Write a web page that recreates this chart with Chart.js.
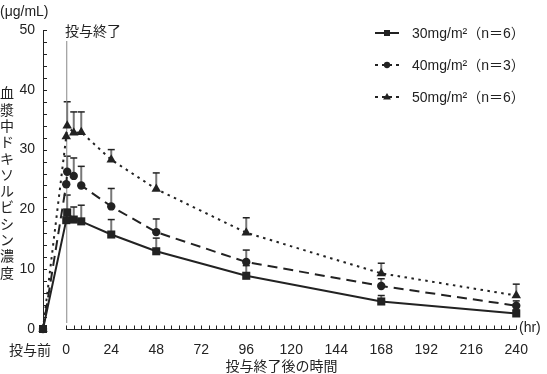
<!DOCTYPE html>
<html lang="ja">
<head>
  <meta charset="UTF-8">
  <title>ドキソルビシン血漿中濃度</title>
  <script src="https://cdn.jsdelivr.net/npm/chart.js"></script>
  <style>
    body { margin: 0; background: #fff; }
    #wrap { width: 547px; height: 374px; }
  </style>
</head>
<body>
  <div id="wrap"><canvas id="pkChart" width="547" height="374"></canvas></div>

  <script>
    // 投与前 sits just left of 0 on the time axis
    const PRE = -12.4;
    const hours = [PRE, 0, 0.5, 4, 8, 24, 48, 96, 168, 240];
    const tickHours = [0, 24, 48, 72, 96, 120, 144, 168, 192, 216, 240];

    const labels = ['30mg/m\u00B2（n＝6）', '40mg/m\u00B2（n＝3）', '50mg/m\u00B2（n＝6）'];

    // mean concentration (μg/mL) and upper SD
    const mean30 = [0, 18.2, 19.5, 18.3, 18.0, 15.8, 13.0, 8.9, 4.6, 2.6];
    const sd30   = [null, null, 2.9, 2.1, 2.7, 2.5, 2.2, 1.7, 1.0, 0.6];
    const mean40 = [0, 24.2, 26.3, 25.6, 24.0, 20.5, 16.2, 11.2, 7.2, 3.9];
    const sd40   = [null, null, 2.6, 3.0, 3.2, 3.0, 2.2, 2.0, 1.2, 0.8];
    const mean50 = [0, 32.2, 34.0, 32.8, 32.9, 28.3, 23.4, 16.1, 9.3, 5.6];
    const sd50   = [null, null, 4.0, 3.5, 3.4, 1.7, 2.7, 2.5, 1.7, 1.9];

    const FONT = "'Liberation Sans', 'Noto Sans CJK JP', sans-serif";
    const JP = "'Noto Sans CJK JP', sans-serif";
    const INK = '#222';

    const means = [mean30, mean40, mean50];
    const sds = [sd30, sd40, sd50];
    const styles = [
      { dash: [], point: 'rect', radius: 5.7 },
      { dash: [10, 6], point: 'circle', radius: 4.2 },
      { dash: [2.5, 4.5], point: 'triangle', radius: 5.5 }
    ];

    function marker(ctx, style, x, y, r) {
      ctx.beginPath();
      if (style === 'rect') {
        const s = r * Math.SQRT1_2;
        ctx.rect(x - s, y - s, 2 * s, 2 * s);
      } else if (style === 'circle') {
        ctx.arc(x, y, r, 0, Math.PI * 2);
      } else {
        ctx.moveTo(x, y - r);
        ctx.lineTo(x + r * 0.95, y + r * 0.6);
        ctx.lineTo(x - r * 0.95, y + r * 0.6);
        ctx.closePath();
      }
      ctx.fill();
    }

    const decor = {
      id: 'decor',
      beforeDatasetsDraw(chart) {
        const { ctx, scales: { x, y } } = chart;
        ctx.save();
        means.forEach((m, i) => {
          sds[i].forEach((sd, j) => {
            if (sd == null) return;
            const px = x.getPixelForValue(hours[j]);
            const y0 = y.getPixelForValue(m[j]);
            const y1 = y.getPixelForValue(m[j] + sd);
            ctx.strokeStyle = '#777';
            ctx.lineWidth = 2;
            ctx.beginPath(); ctx.moveTo(px, y0); ctx.lineTo(px, y1); ctx.stroke();
            ctx.strokeStyle = INK;
            ctx.lineWidth = 1.5;
            ctx.beginPath(); ctx.moveTo(px - 3.5, y1); ctx.lineTo(px + 3.5, y1); ctx.stroke();
          });
        });
        // 投与終了 marker line
        const x0 = x.getPixelForValue(0);
        ctx.strokeStyle = '#888';
        ctx.lineWidth = 1;
        ctx.beginPath(); ctx.moveTo(x0 + 0.5, 41); ctx.lineTo(x0 + 0.5, 323); ctx.stroke();
        ctx.restore();
      },
      afterDraw(chart) {
        const { ctx, chartArea: a, scales: { x, y } } = chart;
        ctx.save();
        ctx.strokeStyle = INK;
        ctx.lineWidth = 1;

        // time axis from 0 to 240 with inside ticks every 4 h
        const xb = Math.round(a.bottom) + 0.5;
        ctx.beginPath();
        ctx.moveTo(x.getPixelForValue(0), xb);
        ctx.lineTo(x.getPixelForValue(240), xb);
        for (let h = 0; h <= 240; h += 4) {
          const px = Math.round(x.getPixelForValue(h)) + 0.5;
          ctx.moveTo(px, xb); ctx.lineTo(px, xb - 4);
        }
        // concentration axis inside ticks every 2
        for (let v = 0; v <= 50; v += 2) {
          const py = Math.round(y.getPixelForValue(v)) + 0.5;
          ctx.moveTo(a.left, py); ctx.lineTo(a.left + 4, py);
        }
        ctx.stroke();

        ctx.fillStyle = INK;
        ctx.textBaseline = 'middle';
        ctx.font = '14px ' + FONT;
        ctx.textAlign = 'left';
        ctx.fillText('(\u03BCg/mL)', 0, 12);
        ctx.fillText('(hr)', 519, 328);
        ctx.font = '14px ' + JP;
        ctx.textAlign = 'center';
        ctx.fillText('投与前', 30, 350);
        ctx.textAlign = 'left';
        ctx.fillText('投与終了', 65, 31);

        // vertical title, stacked upright
        const title = '血漿中ドキソルビシン濃度';
        ctx.textAlign = 'center';
        [...title].forEach((ch, k) => ctx.fillText(ch, 7, 93 + k * 16.3));

        // legend
        chart.data.datasets.forEach((ds, i) => {
          const ly = 33 + i * 32;
          ctx.strokeStyle = INK;
          ctx.lineWidth = 2;
          ctx.setLineDash(styles[i].dash.length ? [3, 4] : []);
          ctx.beginPath(); ctx.moveTo(375, ly); ctx.lineTo(399, ly); ctx.stroke();
          ctx.setLineDash([]);
          ctx.fillStyle = INK;
          marker(ctx, styles[i].point, 387, ly, styles[i].radius * 0.75);
          ctx.font = '14px ' + FONT;
          ctx.textAlign = 'left';
          ctx.fillText(ds.label, 412, ly + 1);
        });
        ctx.restore();
      }
    };

    new Chart(pkChart, {
      type: 'line',
      data: {
        datasets: means.map((m, i) => ({
          label: labels[i],
          data: m.map((v, j) => ({ x: hours[j], y: v })),
          borderColor: INK,
          backgroundColor: INK,
          borderWidth: 2,
          borderDash: styles[i].dash,
          pointStyle: styles[i].point,
          pointRadius: styles[i].radius,
          pointBorderWidth: 0,
          tension: 0,
          clip: false
        }))
      },
      options: {
        responsive: false,
        animation: false,
        devicePixelRatio: 1,
        layout: { padding: { top: 30, right: 27, left: 0, bottom: 0 } },
        plugins: { legend: { display: false }, tooltip: { enabled: false } },
        scales: {
          x: {
            type: 'linear',
            min: PRE,
            max: 242,
            grid: { display: false, drawTicks: false },
            border: { display: false },
            afterBuildTicks: s => { s.ticks = tickHours.map(v => ({ value: v })); },
            afterFit: s => { s.height = 45; },
            ticks: {
              autoSkip: false, maxRotation: 0, padding: 13,
              color: INK, font: { size: 14, family: FONT }
            },
            title: {
              display: true, text: '投与終了後の時間', color: INK,
              font: { size: 14, family: JP }, padding: { top: 0, bottom: 0 }
            }
          },
          y: {
            min: 0,
            max: 50,
            grid: { display: false, drawTicks: false },
            border: { display: true, color: INK, width: 1 },
            afterFit: s => { s.width = 43; },
            ticks: {
              stepSize: 10, padding: 8,
              color: INK, font: { size: 14, family: FONT }
            }
          }
        }
      },
      plugins: [decor]
    });
  </script>
</body>
</html>
